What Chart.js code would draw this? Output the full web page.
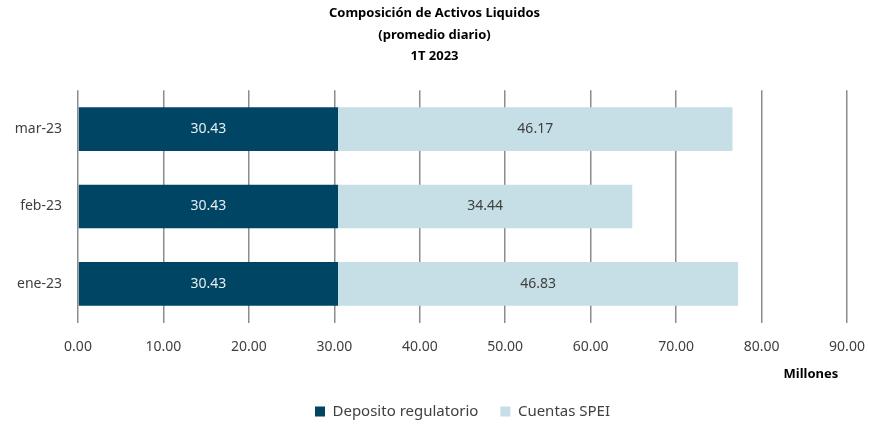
<!DOCTYPE html>
<html>
<head>
<meta charset="utf-8">
<script src="https://cdn.jsdelivr.net/npm/chart.js@4"></script>
<style>
  html, body { margin: 0; padding: 0; background: #fff; }
  #wrap { width: 869px; height: 429px; }
</style>
</head>
<body>
<div id="wrap"><canvas id="chart"></canvas></div>
<script>
// Datos del grafico
const months = ["ene-23", "feb-23", "mar-23"];
const depositoRegulatorio = [30.43, 30.43, 30.43];
const cuentasSpei = [46.83, 34.44, 46.17];
const xTicks = [0, 10, 20, 30, 40, 50, 60, 70, 80, 90];

const FONT = "'Noto Sans', 'DejaVu Sans', sans-serif";
const DARK = "#004664";
const LIGHT = "#c6dee5";

// etiquetas de valor en el centro de cada segmento
const barLabels = {
  id: "barLabels",
  afterDatasetsDraw(chart) {
    const ctx = chart.ctx;
    ctx.save();
    ctx.font = "14px " + FONT;
    ctx.textAlign = "center";
    ctx.textBaseline = "middle";
    chart.data.datasets.forEach((ds, i) => {
      const meta = chart.getDatasetMeta(i);
      meta.data.forEach((bar, j) => {
        ctx.fillStyle = i === 0 ? "#e6eef2" : "#404040";
        ctx.fillText(ds.data[j].toFixed(2), (bar.x + bar.base) / 2, bar.y);
      });
    });
    ctx.restore();
  },
};

new Chart(document.getElementById("chart"), {
  type: "bar",
  data: {
    labels: months,
    datasets: [
      {
        label: "Deposito regulatorio",
        data: depositoRegulatorio,
        backgroundColor: DARK,
        barPercentage: 0.564,
        categoryPercentage: 1,
      },
      {
        label: "Cuentas SPEI",
        data: cuentasSpei,
        backgroundColor: LIGHT,
        barPercentage: 0.564,
        categoryPercentage: 1,
      },
    ],
  },
  options: {
    indexAxis: "y",
    responsive: true,
    maintainAspectRatio: false,
    animation: false,
    layout: { padding: { left: 0, right: 0, top: 0, bottom: 0 } },
    plugins: {
      title: {
        display: true,
        text: ["Composición de Activos Liquidos", "(promedio diario)", "1T 2023"],
        color: "#000",
        font: { family: FONT, size: 13, weight: "bold", lineHeight: 1.65 },
        padding: { top: 3, bottom: 23 },
      },
      legend: {
        position: "bottom",
        fullSize: false,
        labels: {
          color: "#404040",
          font: { family: FONT, size: 15 },
          boxWidth: 10,
          boxHeight: 10,
          padding: 22,
        },
      },
      tooltip: { enabled: false },
    },
    scales: {
      x: {
        stacked: true,
        min: 0,
        max: 90,
        afterBuildTicks: (scale) => {
          scale.ticks = xTicks.map((v) => ({ value: v }));
        },
        afterFit: (scale) => {
          scale.height -= 13;
          scale.paddingLeft = 0;
          scale.paddingRight = 22;
        },
        ticks: {
          color: "#404040",
          font: { family: FONT, size: 14 },
          padding: 16,
          callback: (v) => Number(v).toFixed(2),
        },
        grid: { color: "#8c8c8c", lineWidth: 1.5, drawTicks: false },
        border: { display: false },
        title: {
          display: true,
          text: "Millones\u2002\u2009",
          align: "end",
          color: "#000",
          font: { family: FONT, size: 13, weight: "bold" },
          padding: { top: 8, bottom: 0 },
        },
      },
      y: {
        stacked: true,
        reverse: true,
        afterFit: (scale) => {
          scale.width = 78;
        },
        ticks: {
          color: "#404040",
          font: { family: FONT, size: 14 },
          padding: 16,
        },
        grid: { display: false, drawTicks: false },
        border: { display: false },
      },
    },
  },
  plugins: [barLabels],
});
</script>
</body>
</html>
